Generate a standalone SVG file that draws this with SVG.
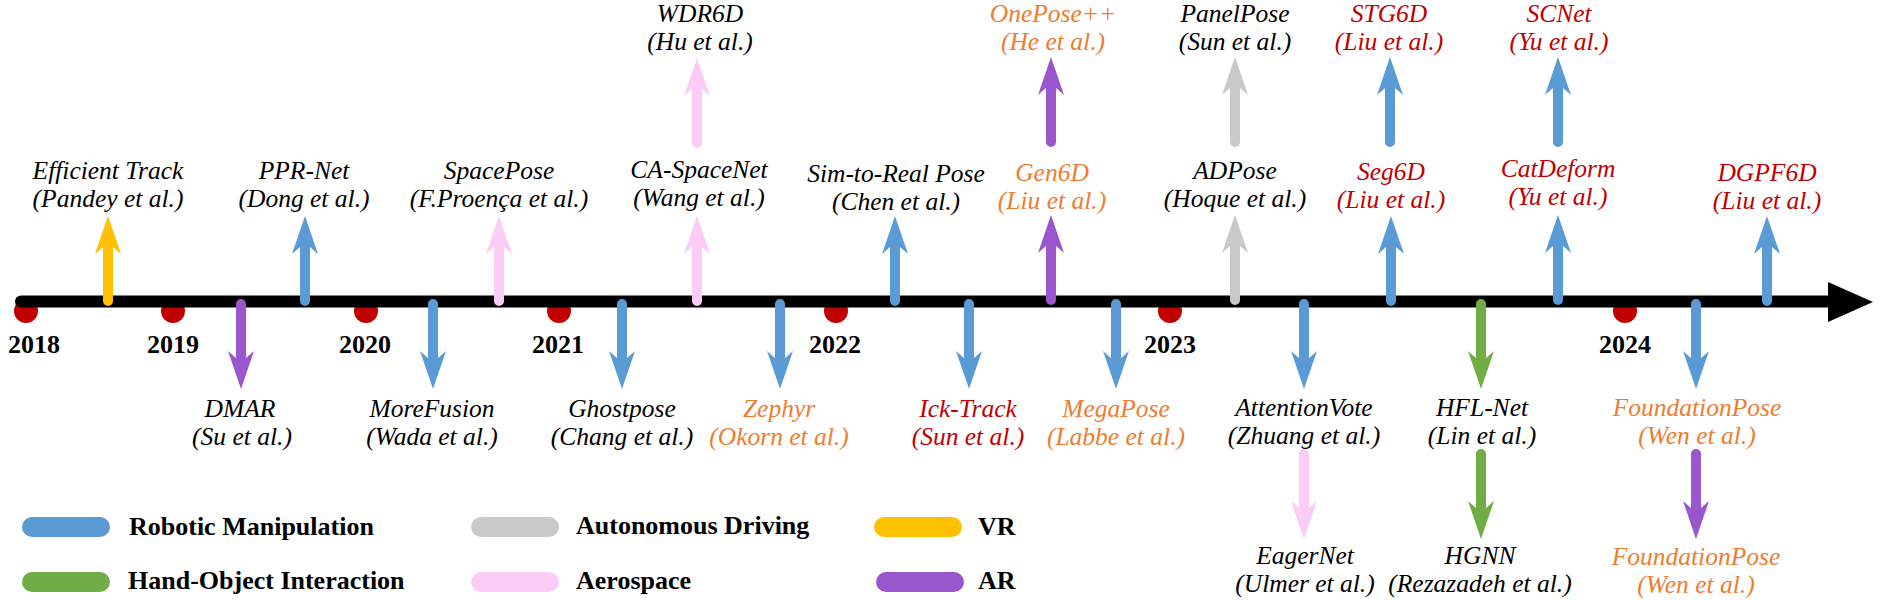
<svg xmlns="http://www.w3.org/2000/svg" xmlns:xlink="http://www.w3.org/1999/xlink" width="1880" height="600" viewBox="0 0 1880 600">
<style>
.lbl{font-family:"Liberation Serif","Times New Roman",serif;font-style:italic;font-size:25.5px;text-anchor:middle}
.yr{font-family:"Liberation Serif","Times New Roman",serif;font-weight:bold;font-size:26px;text-anchor:middle;fill:#000}
.leg{font-family:"Liberation Serif","Times New Roman",serif;font-weight:bold;font-size:26px;fill:#000}
.k{fill:#000}.o{fill:#ED7D31}.r{fill:#C00000}
.blue{fill:#5B9BD5}.gray{fill:#C9C9C9}.yel{fill:#FFC000}.grn{fill:#70AD47}.pink{fill:#FCCBF6}.pur{fill:#9A57CD}
.dot{fill:#C00000}
</style>
<defs>
<path id="arr" d="M0,0 L13,38 L5,31 L5,85 A5,5 0 0 1 -5,85 L-5,31 L-13,38 Z"/>
</defs>
<rect width="1880" height="600" fill="#fff"/>
<g id="years">
<circle class="dot" cx="26" cy="311" r="12"/>
<circle class="dot" cx="173" cy="311" r="12"/>
<circle class="dot" cx="366" cy="311" r="12"/>
<circle class="dot" cx="559" cy="311" r="12"/>
<circle class="dot" cx="836" cy="311" r="12"/>
<circle class="dot" cx="1170" cy="311" r="12"/>
<circle class="dot" cx="1625" cy="311" r="12"/>
<text class="yr" x="34" y="353">2018</text>
<text class="yr" x="173" y="353">2019</text>
<text class="yr" x="365" y="353">2020</text>
<text class="yr" x="558" y="353">2021</text>
<text class="yr" x="835" y="353">2022</text>
<text class="yr" x="1170" y="353">2023</text>
<text class="yr" x="1625" y="353">2024</text>
</g>
<g id="timeline">
<line x1="21" y1="301.5" x2="1832" y2="301.5" stroke="#000" stroke-width="12" stroke-linecap="round"/>
<polygon points="1828,282 1873,302 1828,322" fill="#000"/>
</g>
<g id="connectors">
<use xlink:href="#arr" class="yel" transform="translate(108,216)"/>
<use xlink:href="#arr" class="blue" transform="translate(305,216)"/>
<use xlink:href="#arr" class="pink" transform="translate(499,216)"/>
<use xlink:href="#arr" class="pink" transform="translate(697,216)"/>
<use xlink:href="#arr" class="blue" transform="translate(895,216)"/>
<use xlink:href="#arr" class="pur" transform="translate(1051,215)"/>
<use xlink:href="#arr" class="gray" transform="translate(1235,215)"/>
<use xlink:href="#arr" class="blue" transform="translate(1391,216)"/>
<use xlink:href="#arr" class="blue" transform="translate(1558,215)"/>
<use xlink:href="#arr" class="blue" transform="translate(1767,216)"/>
<use xlink:href="#arr" class="pink" transform="translate(697,58)"/>
<use xlink:href="#arr" class="pur" transform="translate(1051,57)"/>
<use xlink:href="#arr" class="gray" transform="translate(1235,57)"/>
<use xlink:href="#arr" class="blue" transform="translate(1390,57)"/>
<use xlink:href="#arr" class="blue" transform="translate(1558,57)"/>
<use xlink:href="#arr" class="pur" transform="translate(241,389) rotate(180)"/>
<use xlink:href="#arr" class="blue" transform="translate(433,389) rotate(180)"/>
<use xlink:href="#arr" class="blue" transform="translate(622,389) rotate(180)"/>
<use xlink:href="#arr" class="blue" transform="translate(780,389) rotate(180)"/>
<use xlink:href="#arr" class="blue" transform="translate(969,389) rotate(180)"/>
<use xlink:href="#arr" class="blue" transform="translate(1116,389) rotate(180)"/>
<use xlink:href="#arr" class="blue" transform="translate(1304,389) rotate(180)"/>
<use xlink:href="#arr" class="grn" transform="translate(1481,389) rotate(180)"/>
<use xlink:href="#arr" class="blue" transform="translate(1696,389) rotate(180)"/>
<use xlink:href="#arr" class="pink" transform="translate(1304,539) rotate(180)"/>
<use xlink:href="#arr" class="grn" transform="translate(1481,539) rotate(180)"/>
<use xlink:href="#arr" class="pur" transform="translate(1696,539) rotate(180)"/>
</g>
<g id="n-wdr6d"><text class="lbl k" x="700" y="22">WDR6D</text><text class="lbl k" x="700" y="50">(Hu et al.)</text></g>
<g id="n-onepose"><text class="lbl o" x="1053" y="22">OnePose++</text><text class="lbl o" x="1053" y="50">(He et al.)</text></g>
<g id="n-panelpose"><text class="lbl k" x="1235" y="22">PanelPose</text><text class="lbl k" x="1235" y="50">(Sun et al.)</text></g>
<g id="n-stg6d"><text class="lbl r" x="1389" y="22">STG6D</text><text class="lbl r" x="1389" y="50">(Liu et al.)</text></g>
<g id="n-scnet"><text class="lbl r" x="1559" y="22">SCNet</text><text class="lbl r" x="1559" y="50">(Yu et al.)</text></g>
<g id="n-efficient"><text class="lbl k" x="108" y="179">Efficient Track</text><text class="lbl k" x="108" y="207">(Pandey et al.)</text></g>
<g id="n-pprnet"><text class="lbl k" x="304" y="179">PPR-Net</text><text class="lbl k" x="304" y="207">(Dong et al.)</text></g>
<g id="n-spacepose"><text class="lbl k" x="499" y="179">SpacePose</text><text class="lbl k" x="499" y="207">(F.Proença et al.)</text></g>
<g id="n-caspacenet"><text class="lbl k" x="699" y="178">CA-SpaceNet</text><text class="lbl k" x="699" y="206">(Wang et al.)</text></g>
<g id="n-simtoreal"><text class="lbl k" x="896" y="182">Sim-to-Real Pose</text><text class="lbl k" x="896" y="210">(Chen et al.)</text></g>
<g id="n-gen6d"><text class="lbl o" x="1052" y="181">Gen6D</text><text class="lbl o" x="1052" y="209">(Liu et al.)</text></g>
<g id="n-adpose"><text class="lbl k" x="1235" y="179">ADPose</text><text class="lbl k" x="1235" y="207">(Hoque et al.)</text></g>
<g id="n-seg6d"><text class="lbl r" x="1391" y="180">Seg6D</text><text class="lbl r" x="1391" y="208">(Liu et al.)</text></g>
<g id="n-catdeform"><text class="lbl r" x="1558" y="177">CatDeform</text><text class="lbl r" x="1558" y="205">(Yu et al.)</text></g>
<g id="n-dgpf6d"><text class="lbl r" x="1767" y="181">DGPF6D</text><text class="lbl r" x="1767" y="209">(Liu et al.)</text></g>
<g id="n-dmar"><text class="lbl k" x="240" y="417">DMAR</text><text class="lbl k" x="242" y="445">(Su et al.)</text></g>
<g id="n-morefusion"><text class="lbl k" x="432" y="417">MoreFusion</text><text class="lbl k" x="432" y="445">(Wada et al.)</text></g>
<g id="n-ghostpose"><text class="lbl k" x="622" y="417">Ghostpose</text><text class="lbl k" x="622" y="445">(Chang et al.)</text></g>
<g id="n-zephyr"><text class="lbl o" x="779" y="417">Zephyr</text><text class="lbl o" x="779" y="445">(Okorn et al.)</text></g>
<g id="n-icktrack"><text class="lbl r" x="968" y="417">Ick-Track</text><text class="lbl r" x="968" y="445">(Sun et al.)</text></g>
<g id="n-megapose"><text class="lbl o" x="1116" y="417">MegaPose</text><text class="lbl o" x="1116" y="445">(Labbe et al.)</text></g>
<g id="n-attentionvote"><text class="lbl k" x="1304" y="416">AttentionVote</text><text class="lbl k" x="1304" y="444">(Zhuang et al.)</text></g>
<g id="n-hflnet"><text class="lbl k" x="1482" y="416">HFL-Net</text><text class="lbl k" x="1482" y="444">(Lin et al.)</text></g>
<g id="n-foundationpose1"><text class="lbl o" x="1697" y="416">FoundationPose</text><text class="lbl o" x="1697" y="444">(Wen et al.)</text></g>
<g id="n-eagernet"><text class="lbl k" x="1305" y="564">EagerNet</text><text class="lbl k" x="1305" y="592">(Ulmer et al.)</text></g>
<g id="n-hgnn"><text class="lbl k" x="1480" y="564">HGNN</text><text class="lbl k" x="1480" y="592">(Rezazadeh et al.)</text></g>
<g id="n-foundationpose2"><text class="lbl o" x="1696" y="565">FoundationPose</text><text class="lbl o" x="1696" y="593">(Wen et al.)</text></g>
<g id="legend">
<rect class="blue" x="22" y="517" width="88" height="20" rx="10"/>
<text class="leg" x="129" y="535">Robotic Manipulation</text>
<rect class="gray" x="471" y="517" width="88" height="20" rx="10"/>
<text class="leg" x="576" y="534">Autonomous Driving</text>
<rect class="yel" x="874" y="517" width="88" height="20" rx="10"/>
<text class="leg" x="978" y="535">VR</text>
<rect class="grn" x="22" y="572" width="88" height="20" rx="10"/>
<text class="leg" x="128" y="589">Hand-Object Interaction</text>
<rect class="pink" x="471" y="572" width="88" height="20" rx="10"/>
<text class="leg" x="576" y="589">Aerospace</text>
<rect class="pur" x="876" y="572" width="88" height="20" rx="10"/>
<text class="leg" x="978" y="589">AR</text>
</g>
</svg>
